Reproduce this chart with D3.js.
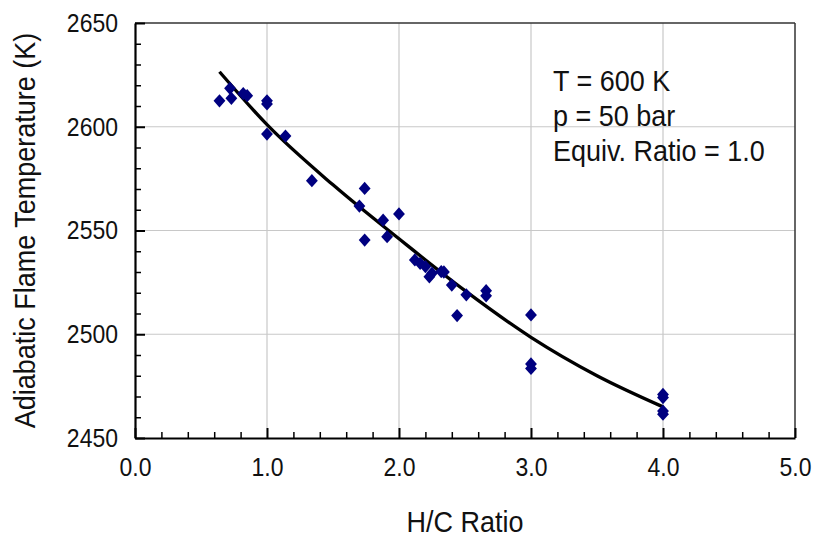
<!DOCTYPE html>
<html>
<head>
<meta charset="utf-8">
<script src="https://cdn.jsdelivr.net/npm/d3@7"></script>
<style>
  html, body { margin: 0; padding: 0; background: #fff; }
  svg { display: block; font-family: "Liberation Sans", Arial, sans-serif; }
</style>
</head>
<body>
<svg id="chart" width="814" height="543"></svg>
<script>
// ---- data ----
const hcRatio = [0.64, 0.72, 0.73, 0.82, 0.85, 1.0, 1.0, 1.0, 1.14, 1.34, 1.70, 1.74, 1.74, 1.88, 1.91, 2.0,
  2.12, 2.16, 2.20, 2.23, 2.25, 2.32, 2.34, 2.40, 2.44, 2.51, 2.66, 2.66, 3.0, 3.0, 3.0, 4.0, 4.0, 4.0, 4.0];
const flameTemp = [2612.5, 2618.5, 2613.7, 2616, 2615, 2612.5, 2611, 2596.5, 2595.5, 2574, 2561.8, 2570.3, 2545.4, 2555, 2547, 2558,
  2535.8, 2534.2, 2532.6, 2527.7, 2529.4, 2530.2, 2530, 2523.7, 2509, 2519, 2521, 2518.5, 2509.3, 2485.7, 2483.5, 2471, 2469.5, 2463, 2461.5];
const fitX = [0.64, 1.0, 1.5, 2.0, 2.5, 3.0, 3.5, 4.0];
const fitT = [2626.5, 2601, 2572, 2546, 2521, 2498.5, 2480, 2465];
const xTicks = [0, 1, 2, 3, 4, 5];
const yTicks = [2450, 2500, 2550, 2600, 2650];
const annotation = ["T = 600 K", "p = 50 bar", "Equiv. Ratio = 1.0"];
const xTitle = "H/C Ratio";
const yTitle = "Adiabatic Flame Temperature (K)";

// ---- layout ----
const L = 135, R = 795, T = 23, B = 438;
const SY = 1.12; // vertical stretch of text seen in the reference
const svg = d3.select("#chart");
const x = d3.scaleLinear().domain([0, 5]).range([L, R]);
const y = d3.scaleLinear().domain([2450, 2650]).range([B, T]);

// gridlines
const g = svg.append("g");
g.selectAll("line.vg").data(xTicks.slice(1, -1)).join("line")
  .attr("x1", d => x(d)).attr("x2", d => x(d)).attr("y1", T).attr("y2", B)
  .attr("stroke", "#c8c8c8").attr("stroke-width", 1.2);
g.selectAll("line.hg").data(yTicks.slice(1, -1)).join("line")
  .attr("x1", L).attr("x2", R).attr("y1", d => y(d)).attr("y2", d => y(d))
  .attr("stroke", "#c8c8c8").attr("stroke-width", 1.2);

// frame top/right
svg.append("line").attr("x1", L).attr("x2", R).attr("y1", T).attr("y2", T).attr("stroke", "#333").attr("stroke-width", 1.5);
svg.append("line").attr("x1", R).attr("x2", R).attr("y1", T).attr("y2", B).attr("stroke", "#333").attr("stroke-width", 1.5);

// minor ticks
const xMinor = d3.range(0, 5.0001, 0.2).filter(v => Math.abs(v - Math.round(v)) > 1e-6);
const yMinor = d3.range(2450, 2651, 10).filter(v => v % 50 !== 0);
svg.append("g").attr("transform", `translate(0,${B})`)
  .call(d3.axisBottom(x).tickValues(xMinor).tickSize(-6).tickFormat(""))
  .call(s => s.select(".domain").remove())
  .selectAll("line").attr("stroke", "#000").attr("stroke-width", 1.5);
svg.append("g").attr("transform", `translate(${L},0)`)
  .call(d3.axisLeft(y).tickValues(yMinor).tickSize(-6).tickFormat(""))
  .call(s => s.select(".domain").remove())
  .selectAll("line").attr("stroke", "#000").attr("stroke-width", 1.5);

// major axes
const xAxis = svg.append("g").attr("transform", `translate(0,${B})`)
  .call(d3.axisBottom(x).tickValues(xTicks).tickSize(-10).tickSizeOuter(0).tickPadding(18).tickFormat(d3.format(".1f")));
const yAxis = svg.append("g").attr("transform", `translate(${L},0)`)
  .call(d3.axisLeft(y).tickValues(yTicks).tickSize(-10).tickSizeOuter(0).tickPadding(17).tickFormat(d3.format("d")));
[xAxis, yAxis].forEach(a => {
  a.select(".domain").attr("stroke", "#000").attr("stroke-width", 2.2);
  a.selectAll(".tick line").attr("stroke", "#000").attr("stroke-width", 2);
  a.selectAll(".tick text").attr("font-size", 23).attr("fill", "#111")
    .attr("font-family", "'Liberation Sans', Arial, sans-serif")
    .attr("transform", `scale(1,${SY})`);
});

// fit line
const lineGen = d3.line().x(d => x(d[0])).y(d => y(d[1])).curve(d3.curveMonotoneX);
svg.append("path").datum(d3.zip(fitX, fitT)).attr("d", lineGen)
  .attr("fill", "none").attr("stroke", "#000").attr("stroke-width", 3.3);

// points
const sym = d3.symbol().type(d3.symbolSquare).size(70);
svg.append("g").selectAll("path").data(d3.zip(hcRatio, flameTemp)).join("path")
  .attr("d", sym)
  .attr("transform", d => `translate(${x(d[0])},${y(d[1])}) scale(1,1.12) rotate(45)`)
  .attr("fill", "#000080");

// annotation
svg.append("g").selectAll("text").data(annotation).join("text")
  .attr("transform", (d, i) => `translate(553,${91 + i * 35}) scale(1,${SY})`)
  .attr("font-size", 27).attr("fill", "#111").text(d => d);

// axis titles
svg.append("text").attr("transform", `translate(${(L + R) / 2},532) scale(1,${SY})`).attr("text-anchor", "middle")
  .attr("font-size", 27).attr("fill", "#111").text(xTitle);
svg.append("text").attr("transform", `translate(35,${(T + B) / 2}) rotate(-90) scale(1,${SY})`)
  .attr("text-anchor", "middle").attr("font-size", 27).attr("fill", "#111").text(yTitle);
</script>
</body>
</html>
